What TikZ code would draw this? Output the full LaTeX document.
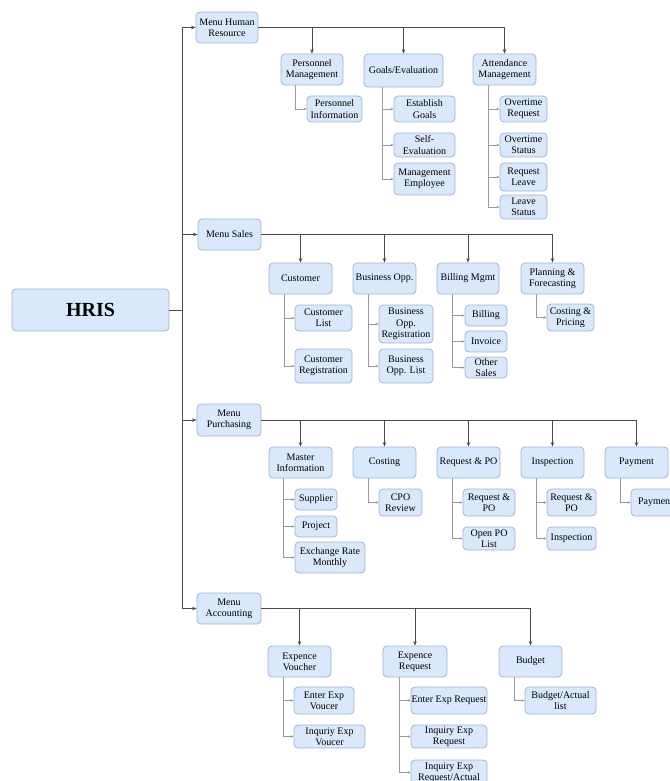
\documentclass[tikz,border=0pt]{standalone}
\usepackage{fontspec}
\setmainfont{Liberation Serif}
\usetikzlibrary{arrows.meta}
\definecolor{boxfill}{HTML}{DAE8FC}
\definecolor{boxline}{HTML}{9FB4D2}
\definecolor{mainline}{HTML}{4A4A4A}
\definecolor{subline}{HTML}{9A9A9A}
\tikzset{
  bx/.style={draw=boxline, fill=boxfill, rounded corners=4pt, line width=0.8pt,
    align=center, inner sep=0.5pt, font=\fontsize{10}{11.4}\selectfont},
  mainl/.style={draw=mainline, line width=0.9pt, -{Stealth[length=4.5pt,width=3.5pt]}},
  subl/.style={draw=subline, line width=0.7pt, -{Stealth[length=3pt,width=2.6pt]}},
}
\newcommand\bx[6]{\node[bx, minimum width={#4-#2}, minimum height={#5-#3}] (#1) at ({(#2+#4)/2},{(#3+#5)/2}) {#6};}
\newcommand\subc[3]{\draw[subl] ([xshift=#2pt]#1.south west) |- (#3.west);}
\begin{document}
\begin{tikzpicture}[x=1pt,y=-1pt]
\useasboundingbox (0,0) rectangle (669,781);
% root and menus
\bx{hris}{12}{289}{169}{331}{\fontsize{20}{24}\selectfont\bfseries HRIS}
\bx{mhr}{196}{12}{258}{43}{Menu Human\\Resource}
\bx{msa}{198}{219}{261}{250}{Menu Sales}
\bx{mpu}{197}{404}{261}{436}{Menu\\Purchasing}
\bx{mac}{197}{593}{261}{624}{Menu\\Accounting}
% HR
\bx{pm}{281}{54}{343}{85}{Personnel\\Management}
\bx{pi}{307}{96}{362}{122}{Personnel\\Information}
\bx{ge}{364}{54}{443}{87}{Goals/Evaluation}
\bx{eg}{394}{96}{455}{122}{Establish\\Goals}
\bx{se}{394}{133}{455}{157}{Self-\\Evaluation}
\bx{me}{394}{163}{455}{195}{Management\\Employee}
\bx{am}{473}{54}{536}{85}{Attendance\\Management}
\bx{otr}{500}{96}{547}{122}{Overtime\\Request}
\bx{ots}{500}{133}{547}{157}{Overtime\\Status}
\bx{rl}{500}{163}{547}{191}{Request\\Leave}
\bx{ls}{500}{195}{547}{219}{Leave\\Status}
% Sales
\bx{cu}{269}{263}{332}{294}{Customer}
\bx{cl}{295}{305}{352}{331}{Customer\\List}
\bx{cr}{295}{349}{352}{383}{Customer\\Registration}
\bx{bo}{353}{263}{416}{294}{Business Opp.}
\bx{br}{379}{305}{433}{343}{Business\\Opp.\\Registration}
\bx{bl}{379}{349}{433}{383}{Business\\Opp. List}
\bx{bm}{437}{263}{499}{294}{Billing Mgmt}
\bx{bi}{465}{305}{507}{326}{Billing}
\bx{inv}{465}{331}{507}{352}{Invoice}
\bx{osl}{465}{357}{507}{378}{Other\\Sales}
\bx{pf}{521}{263}{584}{294}{Planning \&\\Forecasting}
\bx{cp}{547}{304}{594}{331}{Costing \&\\Pricing}
% Purchasing
\bx{mi}{269}{447}{332}{478}{Master\\Information}
\bx{su}{295}{489}{337}{510}{Supplier}
\bx{pr}{295}{516}{337}{537}{Project}
\bx{er}{295}{542}{365}{573}{Exchange Rate\\Monthly}
\bx{co}{353}{447}{416}{478}{Costing}
\bx{cpo}{379}{489}{422}{516}{CPO\\Review}
\bx{rp}{437}{447}{500}{478}{Request \& PO}
\bx{rpa}{463}{489}{515}{516}{Request \&\\PO}
\bx{op}{463}{527}{515}{550}{Open PO\\List}
\bx{ins}{521}{447}{584}{478}{Inspection}
\bx{rpb}{547}{489}{596}{516}{Request \&\\PO}
\bx{insb}{547}{527}{596}{550}{Inspection}
\bx{pa}{605}{447}{668}{478}{Payment}
\bx{pab}{631}{489}{680}{516}{Payment}
% Accounting
\bx{ev}{268}{646}{331}{677}{Expence\\Voucher}
\bx{ee}{294}{687}{354}{714}{Enter Exp\\Voucer}
\bx{ie}{294}{725}{365}{748}{Inquriy Exp\\Voucer}
\bx{xr}{383}{646}{447}{677}{Expence\\Request}
\bx{ex}{411}{687}{487}{714}{Enter Exp Request}
\bx{iq}{411}{725}{487}{748}{Inquiry Exp\\Request}
\bx{ia}{411}{760}{487}{785}{Inquiry Exp\\Request/Actual}
\bx{bu}{499}{646}{562}{677}{Budget}
\bx{ba}{525}{687}{596}{714}{Budget/Actual\\list}
% trunk
\foreach \m in {mhr,msa,mpu,mac}{\draw[mainl] (hris.east) -- ++(13,0) |- (\m.west);}
% menu to categories
\foreach \c in {pm,ge,am}{\draw[mainl] (mhr.east) -| (\c.north);}
\foreach \c in {cu,bo,bm,pf}{\draw[mainl] (msa.east) -| (\c.north);}
\foreach \c in {mi,co,rp,ins,pa}{\draw[mainl] (mpu.east) -| (\c.north);}
\foreach \c in {ev,xr,bu}{\draw[mainl] (mac.east) -| (\c.north);}
% sub items
\subc{pm}{15}{pi}
\foreach \i in {eg,se,me}{\subc{ge}{19}{\i}}
\foreach \i in {otr,ots,rl,ls}{\subc{am}{16}{\i}}
\foreach \i in {cl,cr}{\subc{cu}{16}{\i}}
\foreach \i in {br,bl}{\subc{bo}{16}{\i}}
\foreach \i in {bi,inv,osl}{\subc{bm}{16}{\i}}
\subc{pf}{16}{cp}
\foreach \i in {su,pr,er}{\subc{mi}{15}{\i}}
\subc{co}{16}{cpo}
\foreach \i in {rpa,op}{\subc{rp}{16}{\i}}
\foreach \i in {rpb,insb}{\subc{ins}{16}{\i}}
\subc{pa}{16}{pab}
\foreach \i in {ee,ie}{\subc{ev}{16}{\i}}
\foreach \i in {ex,iq,ia}{\subc{xr}{17}{\i}}
\subc{bu}{16}{ba}
\end{tikzpicture}
\end{document}
